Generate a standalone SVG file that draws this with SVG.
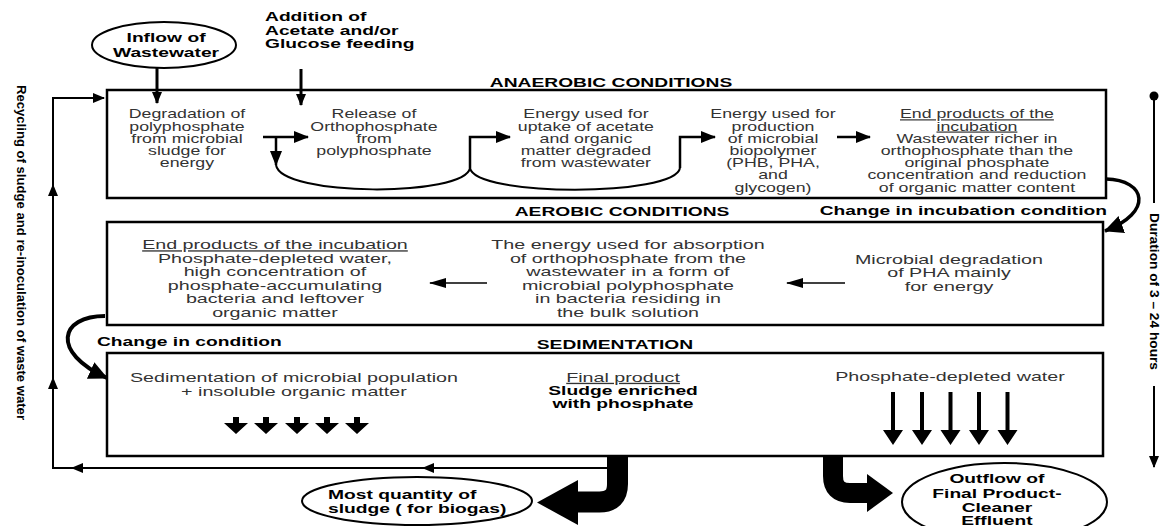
<svg xmlns="http://www.w3.org/2000/svg" width="1163" height="526" viewBox="0 0 1163 526">
<defs>
<style>
.box{fill:#fff;stroke:#000;stroke-width:2.5}
.ell{fill:#fff;stroke:#000;stroke-width:2}
.t12{font-family:"Liberation Sans",Arial,sans-serif;font-size:12px;fill:#333;text-anchor:middle}
.t13{font-family:"Liberation Sans",Arial,sans-serif;font-size:13.3px;fill:#333;text-anchor:middle}
.b{font-family:"Liberation Sans",Arial,sans-serif;font-size:13px;font-weight:bold;fill:#000}
.rot{font-family:"Liberation Sans",Arial,sans-serif;font-size:13.5px;font-weight:bold;fill:#000}
.mid{text-anchor:middle}
.u{text-decoration:underline}
.ln{fill:none;stroke:#000}
</style>
<marker id="aS" markerUnits="userSpaceOnUse" markerWidth="12" markerHeight="10" refX="11" refY="5" orient="auto"><path d="M0,0 L12,5 L0,10 z"/></marker>
<marker id="aM" markerUnits="userSpaceOnUse" markerWidth="15" markerHeight="12" refX="14" refY="6" orient="auto"><path d="M0,0 L15,6 L0,12 z"/></marker>
<marker id="aT" markerUnits="userSpaceOnUse" markerWidth="17" markerHeight="10" refX="16" refY="5" orient="auto"><path d="M0,0 L17,5 L0,10 z"/></marker>
<marker id="aL" markerUnits="userSpaceOnUse" markerWidth="19" markerHeight="18" refX="18" refY="9" orient="auto"><path d="M0,0 L19,9 L0,18 z"/></marker>
<polygon id="fatS" points="-3,0 3,0 3,6 12,6 0,17 -12,6 -3,6"/>
<polygon id="fatL" points="-2,0 2,0 2,38 10,38 0,53 -10,38 -2,38"/>
</defs>
<rect width="1163" height="526" fill="#fff"/>

<g id="inflow">
<ellipse class="ell" cx="164" cy="45" rx="72" ry="23"/>
<g transform="scale(1.48 1)">
<text class="b mid" x="112.2" y="42">Inflow of</text>
<text class="b mid" x="112.2" y="57">Wastewater</text>
</g>
</g>

<g id="addition">
<g transform="scale(1.48 1)">
<text class="b" x="179.05" y="21">Addition of</text>
<text class="b" x="179.05" y="35">Acetate and/or</text>
<text class="b" x="179.05" y="48">Glucose feeding</text>
</g>
</g>

<g id="anaerobic">
<rect class="box" x="107" y="90" width="999" height="108"/>
<g transform="scale(1.48 1)">
<text class="b mid" x="412.84" y="87">ANAEROBIC CONDITIONS</text>
<text class="t12" x="126.35" y="118.5">Degradation of</text>
<text class="t12" x="126.35" y="130.7">polyphosphate</text>
<text class="t12" x="126.35" y="142.9">from microbial</text>
<text class="t12" x="126.35" y="155.1">sludge for</text>
<text class="t12" x="126.35" y="167.3">energy</text>
<text class="t12" x="252.7" y="118.5">Release of</text>
<text class="t12" x="252.7" y="130.7">Orthophosphate</text>
<text class="t12" x="252.7" y="142.9">from</text>
<text class="t12" x="252.7" y="155.1">polyphosphate</text>
<text class="t12" x="395.9" y="118.5">Energy used for</text>
<text class="t12" x="395.9" y="130.7">uptake of acetate</text>
<text class="t12" x="395.9" y="142.9">and organic</text>
<text class="t12" x="395.9" y="155.1">matter degraded</text>
<text class="t12" x="395.9" y="167.3">from wastewater</text>
<text class="t12" x="522.3" y="118.5">Energy used for</text>
<text class="t12" x="522.3" y="130.7">production</text>
<text class="t12" x="522.3" y="142.9">of microbial</text>
<text class="t12" x="522.3" y="155.1">biopolymer</text>
<text class="t12" x="522.3" y="167.3">(PHB, PHA,</text>
<text class="t12" x="522.3" y="179.5">and</text>
<text class="t12" x="522.3" y="191.7">glycogen)</text>
<text class="t12 u" x="660.1" y="118.5">End products of the</text>
<text class="t12 u" x="660.1" y="130.7">incubation</text>
<text class="t12" x="660.1" y="142.9">Wastewater richer in</text>
<text class="t12" x="660.1" y="155.1">orthophosphate than the</text>
<text class="t12" x="660.1" y="167.3">original phosphate</text>
<text class="t12" x="660.1" y="179.5">concentration and reduction</text>
<text class="t12" x="660.1" y="191.7">of organic matter content</text>
</g>
</g>

<g id="aerobic">
<rect class="box" x="107" y="222" width="996" height="103"/>
<g transform="scale(1.48 1)">
<text class="b mid" x="420.3" y="216">AEROBIC CONDITIONS</text>
<text class="t13 u" x="185.8" y="249.5">End products of the incubation</text>
<text class="t13" x="185.8" y="263">Phosphate-depleted water,</text>
<text class="t13" x="185.8" y="276.5">high concentration of</text>
<text class="t13" x="185.8" y="290">phosphate-accumulating</text>
<text class="t13" x="185.8" y="303.5">bacteria and leftover</text>
<text class="t13" x="185.8" y="317">organic matter</text>
<text class="t13" x="424.3" y="249.5">The energy used for absorption</text>
<text class="t13" x="424.3" y="263">of orthophosphate from the</text>
<text class="t13" x="424.3" y="276.5">wastewater in a form of</text>
<text class="t13" x="424.3" y="290">microbial polyphosphate</text>
<text class="t13" x="424.3" y="303.5">in bacteria residing in</text>
<text class="t13" x="424.3" y="317">the bulk solution</text>
<text class="t13" x="641.2" y="264">Microbial degradation</text>
<text class="t13" x="641.2" y="277.5">of PHA mainly</text>
<text class="t13" x="641.2" y="291">for energy</text>
</g>
</g>

<g id="sedimentation">
<rect class="box" x="107" y="353" width="996" height="103"/>
<g transform="scale(1.48 1)">
<text class="b mid" x="415.5" y="349.5">SEDIMENTATION</text>
<text class="t13" x="198.6" y="381.7">Sedimentation of microbial population</text>
<text class="t13" x="198.6" y="395.6">+ insoluble organic matter</text>
<text class="t13 u" x="421" y="382">Final product</text>
<text class="b mid" x="421" y="395.3">Sludge enriched</text>
<text class="b mid" x="421" y="408.3">with phosphate</text>
<text class="t13" x="641.9" y="381">Phosphate-depleted water</text>
</g>
<use href="#fatS" x="236" y="417"/>
<use href="#fatS" x="266" y="417"/>
<use href="#fatS" x="297" y="417"/>
<use href="#fatS" x="327" y="417"/>
<use href="#fatS" x="357" y="417"/>
<use href="#fatL" x="893" y="392"/>
<use href="#fatL" x="922" y="392"/>
<use href="#fatL" x="950.5" y="392"/>
<use href="#fatL" x="979" y="392"/>
<use href="#fatL" x="1007.5" y="392"/>
</g>

<g id="sludge">
<ellipse class="ell" cx="417" cy="501" rx="115" ry="24"/>
<g transform="scale(1.48 1)">
<text class="b" x="221.6" y="499.5">Most quantity of</text>
<text class="b" x="221.6" y="513.5">sludge ( for biogas)</text>
</g>
</g>

<g id="outflow">
<ellipse class="ell" cx="1004.5" cy="502" rx="102.5" ry="39"/>
<g transform="scale(1.48 1)">
<text class="b mid" x="673.6" y="483.5">Outflow of</text>
<text class="b mid" x="673.6" y="498">Final Product-</text>
<text class="b mid" x="673.6" y="512">Cleaner</text>
<text class="b mid" x="673.6" y="525.5">Effluent</text>
</g>
</g>

<g id="connectors">
<path class="ln" stroke-width="3" d="M157,68 V103" marker-end="url(#aS)"/>
<path class="ln" stroke-width="3" d="M301,69 V105" marker-end="url(#aS)"/>
<path class="ln" stroke-width="2.5" d="M263,137 H308" marker-end="url(#aM)"/>
<path class="ln" stroke-width="2.5" d="M276,137 V165" marker-end="url(#aM)"/>
<path class="ln" stroke-width="2" d="M276,165 C281,197 465,197 470,168"/>
<path class="ln" stroke-width="2.5" d="M470,168 V137 H510" marker-end="url(#aM)"/>
<path class="ln" stroke-width="2" d="M470,168 C475,197 675,197 680,168"/>
<path class="ln" stroke-width="2.5" d="M680,168 V137 H715" marker-end="url(#aM)"/>
<path class="ln" stroke-width="2.5" d="M837,137 H870" marker-end="url(#aM)"/>
<path class="ln" stroke-width="1.5" d="M487,283 H430" marker-end="url(#aT)"/>
<path class="ln" stroke-width="1.5" d="M845,283 H787" marker-end="url(#aT)"/>
<path class="ln" stroke-width="3.5" d="M1106,179 C1146,180 1154,212 1105,231" marker-end="url(#aL)"/>
<path class="ln" stroke-width="4" d="M105,316 C60,316 50,352 107,378" marker-end="url(#aL)"/>
<g transform="scale(1.48 1)">
<text class="b" text-anchor="end" x="748" y="215">Change in incubation condition</text>
<text class="b" x="65.54" y="346">Change in condition</text>
</g>
<path class="ln" stroke-width="2" d="M607,468 H423" marker-end="url(#aS)"/>
<path class="ln" stroke-width="2" d="M423,468 H72" marker-end="url(#aS)"/>
<path class="ln" stroke-width="2" d="M72,468 H53 V378" marker-end="url(#aS)"/>
<path class="ln" stroke-width="2" d="M53,378 V185" marker-end="url(#aS)"/>
<path class="ln" stroke-width="2" d="M53,185 V98 H104" marker-end="url(#aS)"/>
<path class="ln" stroke-width="21" d="M617.5,456 V484 Q617.5,502 599.5,502 H576"/>
<polygon points="578,480 537,502.5 578,525"/>
<path class="ln" stroke-width="20" d="M833,456 V476 Q833,493 850,493 H869"/>
<polygon points="867,474 893,493 867,512"/>
</g>

<g id="recycling-label">
<text class="rot" transform="translate(17,85) rotate(90)" textLength="335" lengthAdjust="spacingAndGlyphs">Recycling of sludge and re-inoculation of waste water</text>
</g>

<g id="duration">
<circle cx="1154" cy="96" r="4.5" fill="#000"/>
<path class="ln" stroke-width="2" d="M1154,96 V203"/>
<path class="ln" stroke-width="2" d="M1154,386 V467" marker-end="url(#aS)"/>
<text class="rot" transform="translate(1150,213) rotate(90)" textLength="157" lengthAdjust="spacingAndGlyphs">Duration of 3 – 24 hours</text>
</g>
</svg>
